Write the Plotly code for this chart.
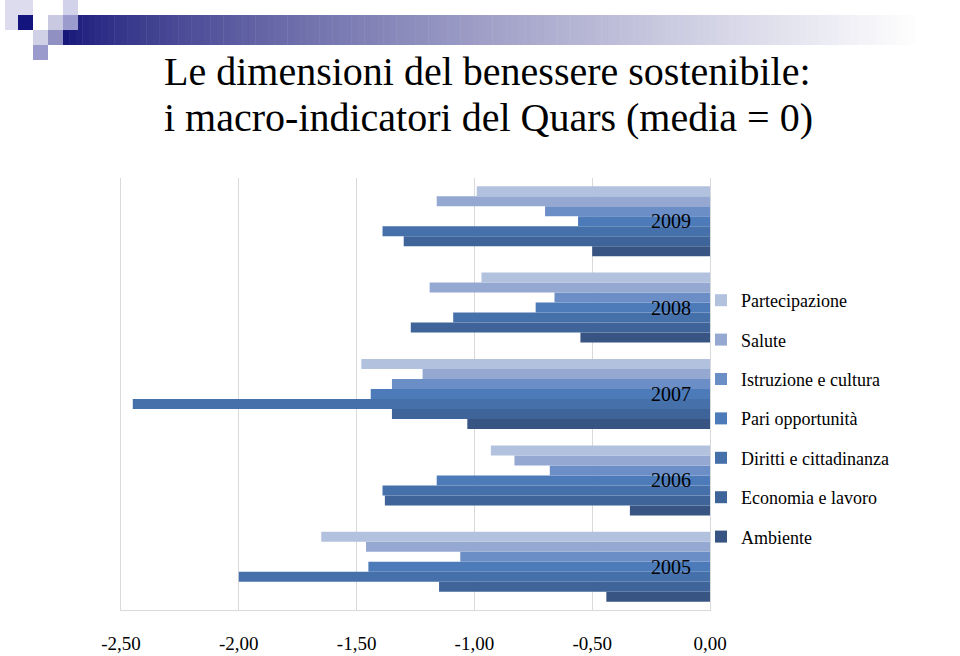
import plotly.graph_objects as go

# categories (bottom to top)
years = ["2005", "2006", "2007", "2008", "2009"]

# values, one list per indicator (2005..2009)
partecipazione = [-1.65, -0.93, -1.48, -0.97, -0.99]
salute = [-1.46, -0.83, -1.22, -1.19, -1.16]
istruzione = [-1.06, -0.68, -1.35, -0.66, -0.70]
pari_opp = [-1.45, -1.16, -1.44, -0.74, -0.56]
diritti = [-2.00, -1.39, -2.45, -1.09, -1.39]
economia = [-1.15, -1.38, -1.35, -1.27, -1.30]
ambiente = [-0.44, -0.34, -1.03, -0.55, -0.50]

x_ticks = [-2.5, -2.0, -1.5, -1.0, -0.5, 0.0]
x_labels = [f"{v:.2f}".replace(".", ",") for v in x_ticks]

# plotly puts the first trace at the bottom of each group -> Ambiente first
series = [
    ("Ambiente", ambiente, "#375482"),
    ("Economia e lavoro", economia, "#3F6499"),
    ("Diritti e cittadinanza", diritti, "#4670AA"),
    ("Pari opportunità", pari_opp, "#4D7BBA"),
    ("Istruzione e cultura", istruzione, "#6C8EC6"),
    ("Salute", salute, "#95A8D2"),
    ("Partecipazione", partecipazione, "#B2C1DE"),
]

SERIF = "Liberation Serif, Times New Roman, serif"

fig = go.Figure()
for i, (name, vals, col) in enumerate(series):
    fig.add_trace(go.Bar(
        y=years, x=vals, name=name, orientation="h",
        marker=dict(color=col, line=dict(width=0)),
        legendgroup=name, legendrank=100 - i,
    ))

# plot area in pixels, used to place the header decoration
L, R, T, B = 121, 710, 178, 610
def px(x):
    return (x - L) / (R - L)
def py(y):
    return (B - y) / (B - T)

shapes = []
# gradient band across the top
x0, x1 = 63, 960
n = 140
for i in range(n):
    a = x0 + (x1 - x0) * i / n
    b = x0 + (x1 - x0) * (i + 1) / n + 0.5
    t = min(1.0, (i / n) / 0.95) ** 0.75
    r = int(24 + (255 - 24) * t)
    g = int(24 + (255 - 24) * t)
    bl = int(122 + (255 - 122) * t)
    shapes.append(dict(type="rect", xref="paper", yref="paper",
                       x0=px(a), x1=px(b), y0=py(45), y1=py(15),
                       fillcolor=f"rgb({r},{g},{bl})", line=dict(width=0), layer="above"))

# small squares at the top left
squares = [
    (5, 0, 33, 30, "#DCDCEE"),
    (18, 15, 33, 30, "#14147E"),
    (48, 15, 63, 30, "#C9C9E2"),
    (63, 0, 78, 15, "#D2D2EA"),
    (63, 15, 78, 30, "#9B9BCD"),
    (33, 30, 48, 45, "#D0D0E6"),
    (48, 30, 63, 45, "#9090C2"),
    (33, 45, 48, 60, "#9A9ACC"),
]
for a, c, b, d, col in squares:
    shapes.append(dict(type="rect", xref="paper", yref="paper",
                       x0=px(a), x1=px(b), y0=py(d), y1=py(c),
                       fillcolor=col, line=dict(width=0), layer="above"))

title_lines = ["Le dimensioni del benessere sostenibile:",
               "i macro-indicatori del Quars (media = 0)"]
annotations = []
for line, yc in zip(title_lines, [72, 117]):
    annotations.append(dict(
        text=line, xref="paper", yref="paper", x=px(162), y=py(yc),
        xanchor="left", yanchor="middle", showarrow=False,
        font=dict(family=SERIF, size=40, color="black"),
    ))

# year labels sit inside the plot, next to the zero line (y = category index)
for k, yr in enumerate(years):
    annotations.append(dict(
        text=yr, xref="paper", yref="y", x=px(693), y=k,
        xanchor="right", yanchor="middle", showarrow=False,
        font=dict(family=SERIF, size=20, color="black"),
    ))

fig.update_layout(
    width=960, height=656,
    margin=dict(l=L, r=960 - R, t=T, b=656 - B),
    paper_bgcolor="white", plot_bgcolor="white",
    barmode="group", bargap=0.19, bargroupgap=0,
    font=dict(family=SERIF, color="black"),
    annotations=annotations,
    xaxis=dict(
        range=[-2.5, 0], tickmode="array", tickvals=x_ticks, ticktext=x_labels,
        showgrid=True, gridcolor="#D9D9D9", gridwidth=1,
        zeroline=False,
        showline=True, linecolor="#D9D9D9", linewidth=1,
        ticks="", ticklabelstandoff=16,
        tickfont=dict(family=SERIF, size=19, color="black"),
        automargin=False, fixedrange=True,
    ),
    yaxis=dict(
        type="category", categoryorder="array", categoryarray=years,
        range=[-0.5, len(years) - 0.5],
        showticklabels=False, ticks="",
        showgrid=False, zeroline=False,
        showline=True, mirror=True, linecolor="#D9D9D9", linewidth=1,
        automargin=False, fixedrange=True,
    ),
    legend=dict(
        x=px(701), y=py(282), xanchor="left", yanchor="top",
        traceorder="grouped", tracegroupgap=13,
        font=dict(family=SERIF, size=18, color="black"),
        bgcolor="rgba(0,0,0,0)", itemclick=False, itemdoubleclick=False,
    ),
    shapes=shapes,
    showlegend=True,
)

fig.write_html("out.html", config={"displayModeBar": False},
               post_script="document.body.style.margin='0';")
